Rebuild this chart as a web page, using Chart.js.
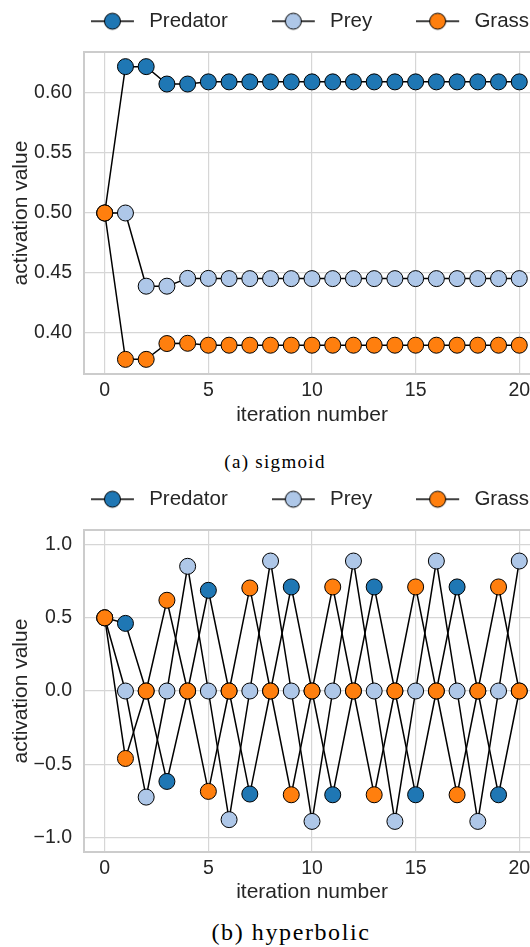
<!DOCTYPE html>
<html><head><meta charset="utf-8">
<script src="https://cdn.jsdelivr.net/npm/chart.js@4.4.1/dist/chart.umd.min.js"></script>
<style>
html,body{margin:0;padding:0;background:#fff;overflow:hidden;width:530px;height:947px;}
.wrap{position:absolute;left:0;}
canvas{display:block;}
.cap{position:absolute;font-family:"Liberation Serif","Times New Roman",serif;color:#000;white-space:nowrap;transform:translate(-50%,-50%);line-height:1;}
</style></head><body>
<div class="wrap" style="top:0px"><canvas id="c1" width="560" height="440"></canvas></div>
<div class="cap" style="left:275px;top:461px;font-size:19px;letter-spacing:1.3px">(a) sigmoid</div>
<div class="wrap" style="top:478px"><canvas id="c2" width="560" height="440"></canvas></div>
<div class="cap" style="left:291px;top:932px;font-size:24px;letter-spacing:1.6px">(b) hyperbolic</div>
<script>
// ---------- data ----------
const iterations = [0,1,2,3,4,5,6,7,8,9,10,11,12,13,14,15,16,17,18,19,20];
const xTicks = [0,5,10,15,20];
const xTickLabels = ['0','5','10','15','20'];
const seriesNames = ['Predator','Prey','Grass'];
const seriesColors = ['#1f77b4','#aec7e8','#ff7f0e'];

// (a) sigmoid
const sigPredator = [0.5,0.622,0.622,0.6075,0.6075,0.6093,0.6093,0.6093,0.6093,0.6093,0.6093,0.6093,0.6093,0.6093,0.6093,0.6093,0.6093,0.6093,0.6093,0.6093,0.6093];
const sigPrey     = [0.5,0.5,0.439,0.439,0.4455,0.4455,0.4453,0.4453,0.4453,0.4453,0.4453,0.4453,0.4453,0.4453,0.4453,0.4453,0.4453,0.4453,0.4453,0.4453,0.4453];
const sigGrass    = [0.5,0.378,0.378,0.3912,0.3914,0.3898,0.3898,0.3898,0.3898,0.3898,0.3898,0.3898,0.3898,0.3898,0.3898,0.3898,0.3898,0.3898,0.3898,0.3898,0.3898];
const sigYTicks = [0.40,0.45,0.50,0.55,0.60];
const sigYTickLabels = ['0.40','0.45','0.50','0.55','0.60'];

// (b) hyperbolic
const tanhPredator = [0.5,0.462,0,-0.618,0,0.688,0,-0.704,0,0.711,0,-0.709,0,0.711,0,-0.709,0,0.711,0,-0.709,0];
const tanhPrey     = [0.5,0,-0.725,0,0.852,0,-0.879,0,0.888,0,-0.891,0,0.888,0,-0.891,0,0.888,0,-0.891,0,0.888];
const tanhGrass    = [0.5,-0.461,0,0.620,0,-0.686,0,0.704,0,-0.709,0,0.711,0,-0.709,0,0.711,0,-0.709,0,0.711,0];
const tanhYTicks = [-1.0,-0.5,0.0,0.5,1.0];
const tanhYTickLabels = ['\u22121.0','\u22120.5','0.0','0.5','1.0'];

// ---------- style ----------
Chart.defaults.font.family = '"Liberation Sans", Arial, sans-serif';
const TXT = '#262626';
const GRID = '#d6d6d6';
const FRAME = '#cccccc';

function legendImage(color) {
  const c = document.createElement('canvas');
  c.width = 48; c.height = 20;
  const g = c.getContext('2d');
  g.strokeStyle = '#000'; g.lineWidth = 1.5;
  g.beginPath(); g.moveTo(0, 10); g.lineTo(43, 10); g.stroke();
  g.beginPath(); g.arc(21.5, 10, 8, 0, Math.PI * 2);
  g.fillStyle = color; g.fill(); g.lineWidth = 1; g.stroke();
  return c;
}
const legendImages = seriesColors.map(legendImage);

const framePlugin = {
  id: 'frame',
  beforeDatasetsDraw(chart) {
    const a = chart.chartArea, ctx = chart.ctx;
    ctx.save(); ctx.strokeStyle = FRAME; ctx.lineWidth = 2;
    ctx.strokeRect(a.left, a.top, a.right - a.left, a.bottom - a.top);
    ctx.restore();
  }
};

function makeChart(id, arrays, yMin, yMax, yTicks, yTickLabels, cfg) {
  const datasets = seriesNames.map((name, i) => ({
    label: name,
    data: iterations.map((x, j) => ({x: x, y: arrays[i][j]})),
    borderColor: '#000', borderWidth: 1.5, tension: 0, fill: false,
    pointRadius: 8, pointHoverRadius: 8, pointBorderWidth: 1, pointHoverBorderWidth: 1,
    pointBorderColor: '#000', pointBackgroundColor: seriesColors[i],
    order: 2 - i
  }));
  const legendPlugin = {
    id: 'legendPos',
    beforeInit(chart) {
      const orig = chart.legend.fit;
      chart.legend.fit = function () { orig.call(this); this.height = cfg.legendH; };
    },
    afterLayout(chart) {
      const L = chart.legend;
      L.left += cfg.legendDx; L.right += cfg.legendDx;
      L.top = cfg.legendTop; L.bottom = L.top + 150;
    }
  };
  return new Chart(document.getElementById(id), {
    type: 'line',
    data: {datasets},
    options: {
      responsive: false, animation: false,
      layout: {padding: {top: 1, left: 0, right: 20, bottom: 0}},
      plugins: {
        tooltip: {enabled: false},
        legend: {
          position: 'top',
          labels: {
            usePointStyle: true, pointStyleWidth: 48, padding: 44,
            color: TXT, font: {size: 20.5},
            sort: (a, b) => a.datasetIndex - b.datasetIndex,
            generateLabels: (chart) => chart.data.datasets.map((ds, i) => ({
              text: ds.label, datasetIndex: i, pointStyle: legendImages[i],
              fontColor: TXT, hidden: false, lineWidth: 0,
              strokeStyle: 'rgba(0,0,0,0)', fillStyle: 'rgba(0,0,0,0)'
            }))
          }
        }
      },
      scales: {
        x: {
          type: 'linear', min: -1, max: 21,
          afterBuildTicks: (s) => { s.ticks = xTicks.map(v => ({value: v})); },
          afterFit: (s) => { s.height = 66; },
          ticks: {callback: (v, i) => xTickLabels[i], color: TXT, font: {size: 19.5}, padding: 5, maxRotation: 0, autoSkip: false},
          grid: {color: GRID, lineWidth: 1.2, drawTicks: false},
          border: {display: false},
          title: {display: true, text: 'iteration number', color: TXT, font: {size: 21}, padding: {top: 0, bottom: cfg.xTitlePad}}
        },
        y: {
          type: 'linear', min: yMin, max: yMax,
          afterBuildTicks: (s) => { s.ticks = yTicks.map(v => ({value: v})); },
          afterFit: (s) => { s.width = 84; },
          ticks: {callback: (v, i) => yTickLabels[i], color: TXT, font: {size: 19.5}, padding: 12, autoSkip: false},
          grid: {color: GRID, lineWidth: 1.2, drawTicks: false},
          border: {display: false},
          title: {display: true, text: 'activation value', color: TXT, font: {size: 21}, padding: {top: 9, bottom: 0}}
        }
      }
    },
    plugins: [legendPlugin, framePlugin]
  });
}

makeChart('c1', [sigPredator, sigPrey, sigGrass], 0.3658, 0.6342, sigYTicks, sigYTickLabels,
  {legendH: 51, legendDx: 40, legendTop: -33, xTitlePad: 12.5});
makeChart('c2', [tanhPredator, tanhPrey, tanhGrass], -1.1, 1.1, tanhYTicks, tanhYTickLabels,
  {legendH: 51, legendDx: 40, legendTop: -33, xTitlePad: 13.5});
</script>
</body></html>
